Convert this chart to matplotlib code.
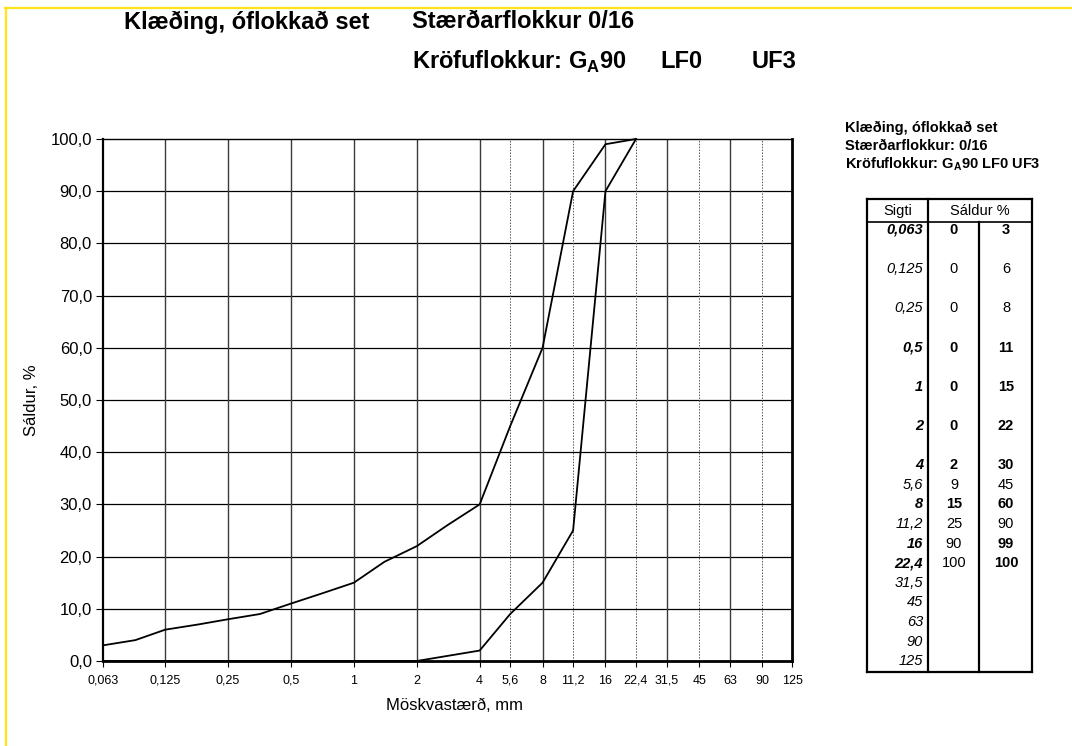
import numpy as np
import matplotlib
matplotlib.use("Agg")
import matplotlib.pyplot as plt
from matplotlib.lines import Line2D

plt.rcParams['font.family'] = ['Liberation Sans', 'DejaVu Sans']
plt.rcParams['mathtext.fontset'] = 'custom'
plt.rcParams['mathtext.rm'] = 'Liberation Sans'
plt.rcParams['mathtext.bf'] = 'Liberation Sans:bold'

# sigti (mm) og kröfumörk úr töflunni
sigti = [0.063, 0.125, 0.25, 0.5, 1, 2, 4, 5.6, 8, 11.2, 16, 22.4, 31.5, 45, 63, 90, 125]
sigti_txt = ["0,063", "0,125", "0,25", "0,5", "1", "2", "4", "5,6", "8", "11,2",
             "16", "22,4", "31,5", "45", "63", "90", "125"]
neðri = [0, 0, 0, 0, 0, 0, 2, 9, 15, 25, 90, 100]
efri = [3, 6, 8, 11, 15, 22, 30, 45, 60, 90, 99, 100]

# ferlarnir eins og þeir eru teiknaðir (með millisigtum)
x_efri = [0.063, 0.09, 0.125, 0.18, 0.25, 0.355, 0.5, 0.71, 1, 1.4, 2, 2.8, 4, 5.6, 8, 11.2, 16, 22.4]
y_efri = [3, 4, 6, 7, 8, 9, 11, 13, 15, 19, 22, 26, 30, 45, 60, 90, 99, 100]
x_neðri = sigti[:12]
y_neðri = neðri

# feitletrun í töflunni (sigti, neðri, efri)
feitt_sigti = [1, 0, 0, 1, 1, 1, 1, 0, 1, 0, 1, 1, 0, 0, 0, 0, 0]
feitt_neðri = [1, 0, 0, 1, 1, 1, 1, 0, 1, 0, 0, 0]
feitt_efri = [1, 0, 0, 1, 1, 1, 1, 0, 1, 0, 1, 1]
raðabil = [2, 2, 2, 2, 2, 2, 1, 1, 1, 1, 1, 1, 1, 1, 1, 1]

heiti = "Klæðing, óflokkað set"
stærð = "Stærðarflokkur 0/16"

W, H = 1072, 746
fig = plt.figure(figsize=(W / 100, H / 100), dpi=100)

def fx(x):
    return x / W

def fy(y):
    return 1 - y / H

ax = fig.add_axes([fx(103), fy(661), fx(792) - fx(103), fy(139) - fy(661)])
ax.set_xscale('log')
ax.set_xlim(0.063, 125)
ax.set_ylim(0, 100)

# grind
for v in range(10, 100, 10):
    ax.axhline(v, color='black', lw=0.9, zorder=1)
punktalinur = [5.6, 11.2, 22.4, 45, 90]
for s in sigti[1:-1]:
    if s in punktalinur:
        ax.axvline(s, color='#555555', lw=0.7, ls=(0, (1.5, 1.5)), zorder=1)
    else:
        ax.axvline(s, color='#3a3a3a', lw=1.0, zorder=1)

ax.plot(x_efri, y_efri, color='black', lw=1.3, zorder=3, clip_on=False)
ax.plot(x_neðri, y_neðri, color='black', lw=1.3, zorder=3, clip_on=False)

ax.set_xticks(sigti)
ax.set_xticklabels(sigti_txt, fontsize=9)
ax.xaxis.set_minor_locator(matplotlib.ticker.NullLocator())
ax.set_yticks(range(0, 101, 10))
ax.set_yticklabels([f"{v},0" for v in range(0, 101, 10)], fontsize=12)
ax.tick_params(axis='x', length=4, width=0.8, pad=6)
ax.tick_params(axis='y', length=5, width=0.8, pad=3)

ax.spines['left'].set_linewidth(1.6)
ax.spines['bottom'].set_linewidth(2.0)
ax.spines['right'].set_linewidth(2.0)
ax.spines['top'].set_linewidth(1.0)

fig.text(fx(32), fy(400), "Sáldur, %", rotation=90, ha='center', va='center', fontsize=12)
fig.text(fx(455), fy(706), "Möskvastærð, mm", ha='center', va='center', fontsize=12)

# fyrirsagnir
fig.text(fx(124), fy(22), heiti, ha='left', va='center', fontsize=17, fontweight='bold')
fig.text(fx(412), fy(22), stærð, ha='left', va='center', fontsize=17, fontweight='bold')
fig.text(fx(412), fy(62), r"Kröfuflokkur: G$_{\mathbf{A}}$90", ha='left', va='center',
         fontsize=17, fontweight='bold')
fig.text(fx(660), fy(62), "LF0", ha='left', va='center', fontsize=17, fontweight='bold')
fig.text(fx(752), fy(62), "UF3", ha='left', va='center', fontsize=17, fontweight='bold')

# gul rönd
fig.add_artist(Line2D([fx(5), 1], [fy(7.5), fy(7.5)], color='#FFE21A', lw=1.6))
fig.add_artist(Line2D([fx(5.5), fx(5.5)], [fy(7.5), 0], color='#FFE21A', lw=1.6))

# tafla til hægri
fig.text(fx(845), fy(128), heiti, ha='left', va='center', fontsize=10.5, fontweight='bold')
fig.text(fx(845), fy(146), "Stærðarflokkur: 0/16", ha='left', va='center', fontsize=10.5, fontweight='bold')
fig.text(fx(845), fy(164), r"Kröfuflokkur: G$_{\mathbf{A}}$90 LF0 UF3", ha='left', va='center',
         fontsize=10.5, fontweight='bold')

def lina(x0, y0, x1, y1, lw):
    fig.add_artist(Line2D([fx(x0), fx(x1)], [fy(y0), fy(y1)], color='black', lw=lw,
                          solid_capstyle='projecting'))

tL, tR, tT, tB, tH = 867, 1032, 199, 672, 222
c1, c2 = 928, 979
lina(tL, tT, tR, tT, 1.6)
lina(tL, tB, tR, tB, 1.6)
lina(tL, tT, tL, tB, 1.6)
lina(tR, tT, tR, tB, 1.6)
lina(tL, tH, tR, tH, 1.2)
lina(c1, tT, c1, tB, 1.6)
lina(c2, tH, c2, tB, 1.6)

fig.text(fx(898), fy(211), "Sigti", ha='center', va='center', fontsize=10.5)
fig.text(fx(980), fy(211), "Sáldur %", ha='center', va='center', fontsize=10.5)

y_rod = np.concatenate([[230], 230 + 19.6 * np.cumsum(raðabil)])
for i, txt in enumerate(sigti_txt):
    fig.text(fx(923), fy(y_rod[i]), txt, ha='right', va='center', fontsize=10.5, style='italic',
             fontweight='bold' if feitt_sigti[i] else 'normal')
for i in range(len(neðri)):
    fig.text(fx(954), fy(y_rod[i]), str(neðri[i]), ha='center', va='center', fontsize=10.5,
             fontweight='bold' if feitt_neðri[i] else 'normal')
    fig.text(fx(1006), fy(y_rod[i]), str(efri[i]), ha='center', va='center', fontsize=10.5,
             fontweight='bold' if feitt_efri[i] else 'normal')

fig.savefig("out.png", dpi=100)
